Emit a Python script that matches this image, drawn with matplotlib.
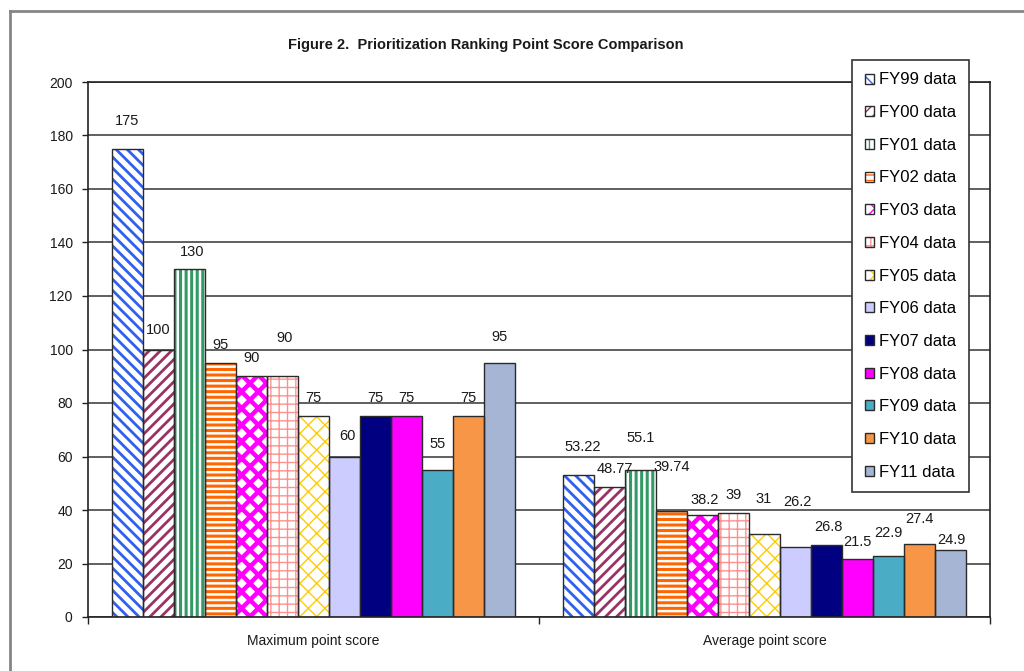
import numpy as np
import matplotlib
matplotlib.use("Agg")
import matplotlib.pyplot as plt
from matplotlib.lines import Line2D

plt.rcParams['font.family'] = ['Liberation Sans', 'DejaVu Sans']

# data
groups = ["Maximum point score", "Average point score"]
series = ["FY99 data", "FY00 data", "FY01 data", "FY02 data", "FY03 data", "FY04 data", "FY05 data",
          "FY06 data", "FY07 data", "FY08 data", "FY09 data", "FY10 data", "FY11 data"]
max_score = [175, 100, 130, 95, 90, 90, 75, 60, 75, 75, 55, 75, 95]
avg_score = [53.22, 48.77, 55.1, 39.74, 38.2, 39, 31, 26.2, 26.8, 21.5, 22.9, 27.4, 24.9]

# styles: (face, hatch, hatch colour, hatch linewidth)
styles = [
    ("white", "\\\\\\", "#3060f0", 2.0),
    ("white", "///", "#993366", 2.0),
    ("white", "|||", "#339966", 2.2),
    ("white", "---", "#ff6600", 2.2),
    ("white", "xx", "#ff00ff", 3.2),
    ("white", "++", "#ff9090", 1.0),
    ("white", "xx", "#ffcc00", 1.0),
    ("#ccccff", None, None, 0),
    ("#000080", None, None, 0),
    ("#ff00ff", None, None, 0),
    ("#4bacc6", None, None, 0),
    ("#f79646", None, None, 0),
    ("#a6b5d3", None, None, 0),
]

# label nudges in pixels (dx, dy above bar top), copied from the reference layout
max_dx = [0, 0, 3, 0, 0, 2, 0, 3, 0, 0, 0, 0, 0]
max_dy = [28, 19, 17, 18, 18, 38, 18, 20, 18, 18, 26, 18, 26]
avg_dx = [4, 5, 0, 0, 2, 0, -1, 2, 2, 0, 0, 0, 1]
avg_dy = [28, 18, 32, 44, 15, 18, 35, 45, 18, 17, 23, 25, 10]

fig = plt.figure(figsize=(10.24, 6.71), dpi=100)
ax = fig.add_axes([88 / 1024, 1 - 617 / 671, 902 / 1024, 535 / 671])

x = np.arange(len(groups))
n = len(series)
w = 31 / 451
handles = []
for i, (name, st) in enumerate(zip(series, styles)):
    face, hatch, hcol, hlw = st
    vals = [max_score[i], avg_score[i]]
    pos = x + (i - (n - 1) / 2) * w
    if hatch:
        plt.rcParams['hatch.linewidth'] = hlw
        b1 = ax.bar(pos, vals, w, color=face, edgecolor=hcol, hatch=hatch, linewidth=0, zorder=2)
        for p in b1:
            if hasattr(p, "set_hatch_linewidth"):
                p.set_hatch_linewidth(hlw)
    else:
        b1 = ax.bar(pos, vals, w, color=face, linewidth=0, zorder=2)
    b2 = ax.bar(pos, vals, w, fill=False, edgecolor="#2a2a2a", linewidth=1.0, zorder=3)
    handles.append((b1[0], b2[0]))

    offs = [(max_dx[i], max_dy[i]), (avg_dx[i], avg_dy[i])]
    for xp, v, (dx, dy) in zip(pos, vals, offs):
        ax.annotate(f"{v:g}", xy=(xp, v), xytext=(dx, dy), textcoords="offset pixels",
                    ha="center", va="center", fontsize=10.5, color="#1a1a1a", zorder=4)

ax.set_xlim(-0.5, 1.5)
ax.set_ylim(0, 200)
ax.set_yticks(np.arange(0, 201, 20))
ax.yaxis.grid(True, color="#444444", linewidth=1.2)
ax.set_axisbelow(True)
ax.set_xticks([-0.5, 0.5, 1.5])
ax.set_xticklabels([])
ax.set_xticks(x, minor=True)
ax.set_xticklabels(groups, minor=True)
ax.tick_params(axis="x", which="major", direction="out", length=5, width=1, color="#222222")
ax.tick_params(axis="x", which="minor", length=0, pad=12, labelsize=10, labelcolor="#1a1a1a")
ax.tick_params(axis="y", direction="out", length=4, width=1, pad=7, labelsize=10,
               labelcolor="#1a1a1a", color="#222222")
for s in ax.spines.values():
    s.set_color("#222222")
    s.set_linewidth(1.2)

leg = ax.legend(handles, series, loc="upper left", bbox_to_anchor=(852 / 1024, 1 - 60 / 671),
                bbox_transform=fig.transFigure, fontsize=12, frameon=True, fancybox=False,
                edgecolor="#333333", framealpha=1, handlelength=0.55, handleheight=0.55,
                handletextpad=0.3, labelspacing=1.06, borderpad=0.75, borderaxespad=0)
leg.get_frame().set_linewidth(1.2)
leg.set_zorder(10)

fig.text(486 / 1024, 1 - 45 / 671, "Figure 2.  Prioritization Ranking Point Score Comparison",
         ha="center", va="center", fontsize=10.5, fontweight="bold", color="#1a1a1a")

# grey outer border of the chart area
fig.add_artist(Line2D([10 / 1024, 1], [1 - 11 / 671, 1 - 11 / 671], transform=fig.transFigure,
                      color="#858585", linewidth=2))
fig.add_artist(Line2D([10 / 1024, 10 / 1024], [0, 1 - 11 / 671], transform=fig.transFigure,
                      color="#858585", linewidth=2))

fig.savefig("out.png", dpi=100)
